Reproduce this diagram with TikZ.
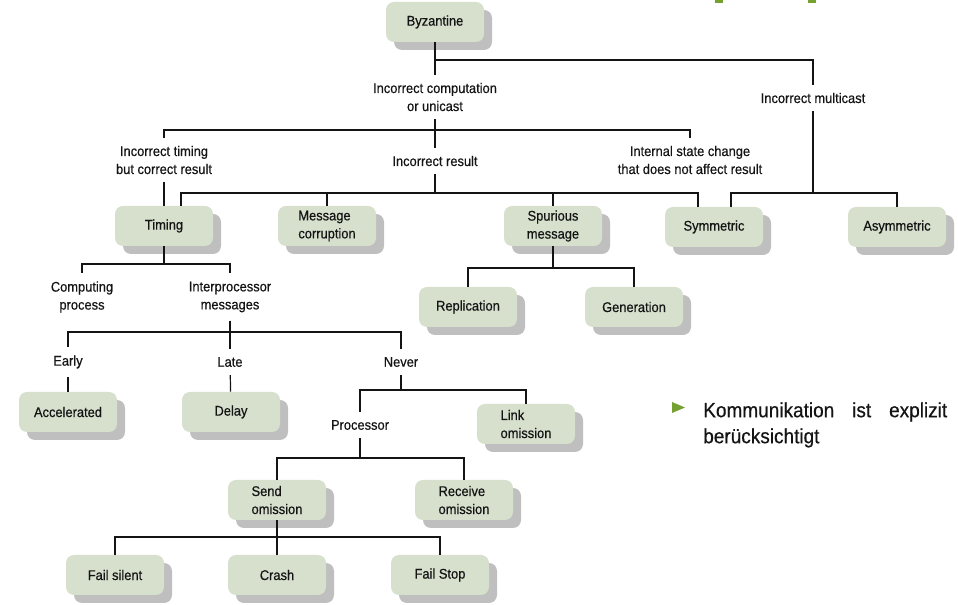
\documentclass[tikz,border=0pt]{standalone}
\usepackage{fontspec}
\setmainfont{Liberation Sans}[FakeStretch=0.92, FakeBold=0.5]
\usetikzlibrary{shadows}
\definecolor{boxgreen}{RGB}{214,224,205}
\definecolor{shadowgray}{RGB}{191,191,191}
\definecolor{accent}{RGB}{118,160,48}
\definecolor{ink}{RGB}{20,20,20}

\begin{document}
\begin{tikzpicture}[
        x=0.75pt, y=-0.75pt,
        font=\fontsize{10.5}{13.5}\selectfont,
        text=ink,
        fault/.style={
            rectangle,
            minimum width=73.5pt,
            minimum height=30pt,
            align=center,
            fill=boxgreen,
            rounded corners=6pt,
            drop shadow={shadow xshift=6pt, shadow yshift=-6pt, fill=shadowgray, opacity=1}
        },
        cond/.style={
            align=center,
            inner xsep=2pt,
            inner ysep=6pt
        },
        wire/.style={
            draw=ink,
            line width=0.9pt
        }
    ]

    \useasboundingbox (0,0) rectangle (958,605);

    \node (byz) [fault] at (435,22) {Byzantine};

    \node (compuni) [cond] at (435,97) {Incorrect computation\\or unicast};
    \node (mcast) [cond] at (813,98) {Incorrect multicast};

    \node (timingres) [cond] at (164,160) {Incorrect timing\\but correct result};
    \node (incres) [cond] at (435,161) {Incorrect result};
    \node (internal) [cond] at (690,160) {Internal state change\\that does not affect result};

    \node (timing) [fault] at (164,226) {Timing};
    \node (msgcorr) [fault, align=left] at (327,226) {Message\\corruption};
    \node (spurious) [fault] at (553,226) {Spurious\\message};
    \node (sym) [fault] at (714,227) {Symmetric};
    \node (asym) [fault] at (897,227) {Asymmetric};

    \node (repl) [fault] at (468,307) {Replication};
    \node (gen) [fault] at (634,307) {Generation};

    \node (computing) [cond] at (82,297) {Computing\\process};
    \node (interproc) [cond] at (230,297) {Interprocessor\\messages};

    \node (early) [cond] at (68,362) {Early};
    \node (late) [cond] at (230,362) {Late};
    \node (never) [cond] at (401,362) {Never};

    \node (accel) [fault] at (68,412) {Accelerated};
    \node (delay) [fault] at (231,412) {Delay};
    \node (processor) [cond] at (360,425) {Processor};
    \node (linkom) [fault, align=left] at (526,424) {Link\\omission};

    \node (sendom) [fault, align=left] at (277,500) {Send\\omission};
    \node (recvom) [fault, align=left] at (464,500) {Receive\\omission};

    \node (failsil) [fault] at (115,575) {Fail silent};
    \node (crash) [fault] at (277,575) {Crash};
    \node (failstop) [fault] at (440,575) {Fail Stop};

    % levels of the branching bars
    \coordinate (b0) at (0,60);
    \coordinate (b1) at (0,130);
    \coordinate (b2) at (0,193);
    \coordinate (b3) at (0,264);
    \coordinate (b4) at (0,268);
    \coordinate (b5) at (0,332);
    \coordinate (b6) at (0,390);
    \coordinate (b7) at (0,458);
    \coordinate (b8) at (0,537);

    \draw [wire] (byz) -- (compuni);
    \draw [wire] (byz.south) -- (byz.south |- b0) -| (mcast.north);

    \foreach \c in {timingres, incres, internal}
        \draw [wire] (compuni.south) -- (compuni.south |- b1) -| (\c.north);

    \draw [wire] (timingres) -- (timing);
    \draw [wire] (incres.south) -- (incres.south |- b2) -| ([xshift=12.75pt]timing.north);
    \foreach \c in {msgcorr, spurious}
        \draw [wire] (incres.south) -- (incres.south |- b2) -| (\c.north);
    \draw [wire] (incres.south) -- (incres.south |- b2) -| ([xshift=-12pt]sym.north);

    \draw [wire] (mcast.south) -- (mcast.south |- b2) -| ([xshift=12.75pt]sym.north);
    \draw [wire] (mcast.south) -- (mcast.south |- b2) -| (asym.north);

    \foreach \c in {computing, interproc}
        \draw [wire] (timing.south) -- (timing.south |- b3) -| (\c.north);
    \foreach \c in {repl, gen}
        \draw [wire] (spurious.south) -- (spurious.south |- b4) -| (\c.north);

    \foreach \c in {early, late, never}
        \draw [wire] (interproc.south) -- (interproc.south |- b5) -| (\c.north);
    \draw [wire] (early) -- (accel);
    \draw [wire] (late) -- (delay);

    \foreach \c in {processor, linkom}
        \draw [wire] (never.south) -- (never.south |- b6) -| (\c.north);
    \foreach \c in {sendom, recvom}
        \draw [wire] (processor.south) -- (processor.south |- b7) -| (\c.north);
    \foreach \c in {failsil, crash, failstop}
        \draw [wire] (sendom.south) -- (sendom.south |- b8) -| (\c.north);

    % side note
    \fill [accent] (672,402) -- (685,407.5) -- (672,413) -- cycle;
    \node (note) [anchor=north west, text width=183pt, align=left, inner sep=0pt,
        font=\fontsize{15.5}{19.5}\selectfont] at (703,402)
        {Kommunikation\hfill ist\hfill explizit\\berücksichtigt};

    \fill [accent] (715,0) rectangle (723,3);
    \fill [accent] (808,0) rectangle (816,3);

\end{tikzpicture}
\end{document}
